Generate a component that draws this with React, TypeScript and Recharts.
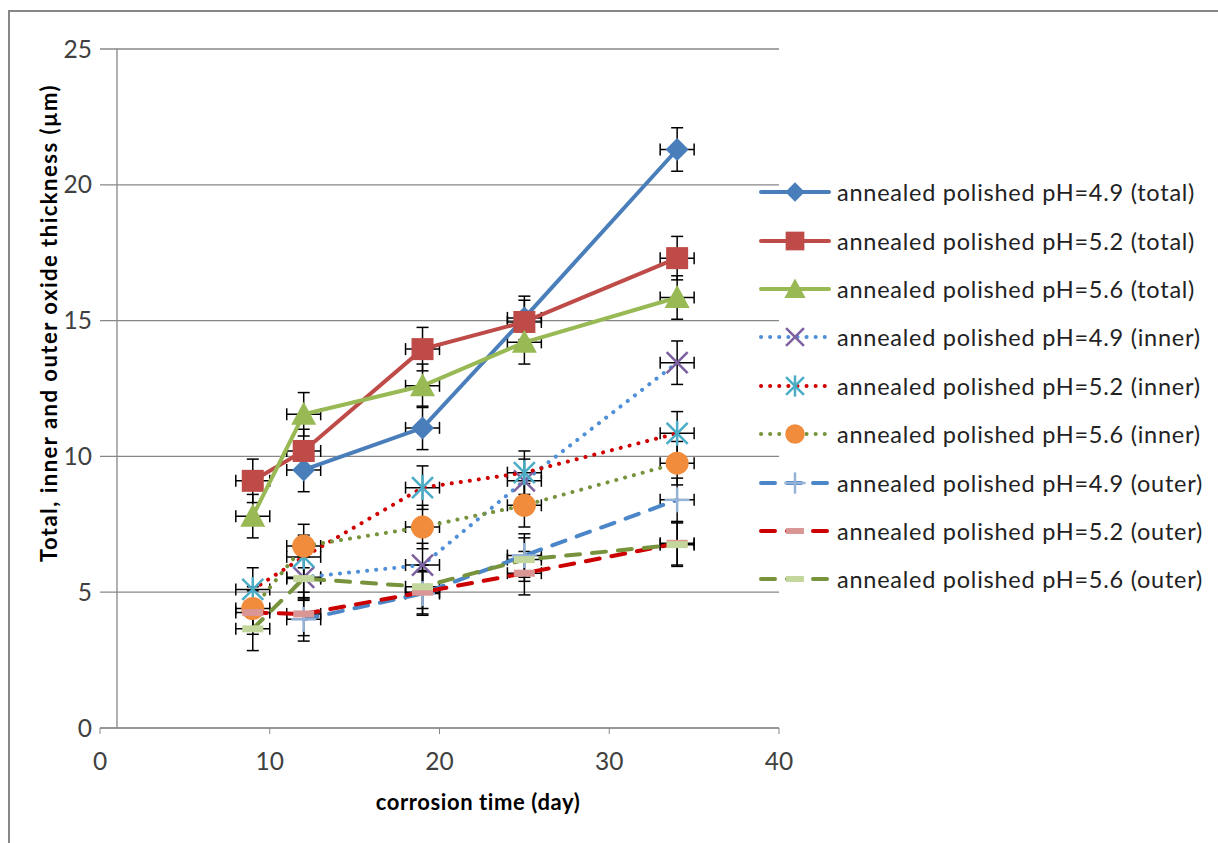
import {
  ScatterChart,
  Scatter,
  XAxis,
  YAxis,
  CartesianGrid,
  ErrorBar,
  ReferenceLine,
  Label
} from 'recharts'

// corrosion time (day) and error estimates
const days = [9, 12, 19, 25, 34]
const dayErr = [1, 1, 1, 1, 1]
const thicknessErr = [0.8, 0.8, 0.8, 0.8, 0.8]

// oxide thickness (µm), null = not measured
const total49 = [null, 9.5, 11.05, 15.1, 21.3]
const total52 = [9.1, 10.2, 13.95, 14.95, 17.3]
const total56 = [7.8, 11.55, 12.6, 14.2, 15.85]
const inner49 = [null, 5.55, 6.0, 9.1, 13.45]
const inner52 = [5.1, 6.3, 8.85, 9.4, 10.85]
const inner56 = [4.4, 6.7, 7.4, 8.2, 9.75]
const outer49 = [null, 4.0, 4.95, 6.35, 8.4]
const outer52 = [4.25, 4.2, 5.0, 5.7, 6.8]
const outer56 = [3.65, 5.5, 5.2, 6.2, 6.75]

const xTicks = [0, 10, 20, 30, 40]
const yTicks = [0, 5, 10, 15, 20, 25]

const FONT = 'Lato, "Open Sans", sans-serif'
const GRID = '#878787'

type Marker = 'diamond' | 'square' | 'triangle' | 'x' | 'star' | 'circle' | 'plus' | 'dash'

interface SeriesDef {
  name: string
  values: (number | null)[]
  stroke: string
  dash?: string
  marker: Marker
  markerColor: string
}

const DOT = '0.1 9'
const DASH = '14 12'

const series: SeriesDef[] = [
  { name: 'annealed polished pH=4.9 (total)', values: total49, stroke: '#4A7EBB', marker: 'diamond', markerColor: '#4A7EBB' },
  { name: 'annealed polished pH=5.2 (total)', values: total52, stroke: '#BE4B48', marker: 'square', markerColor: '#BE4B48' },
  { name: 'annealed polished pH=5.6 (total)', values: total56, stroke: '#98B954', marker: 'triangle', markerColor: '#98B954' },
  { name: 'annealed polished pH=4.9 (inner)', values: inner49, stroke: '#4F8FD8', dash: DOT, marker: 'x', markerColor: '#7D60A0' },
  { name: 'annealed polished pH=5.2 (inner)', values: inner52, stroke: '#D00000', dash: DOT, marker: 'star', markerColor: '#4BACC6' },
  { name: 'annealed polished pH=5.6 (inner)', values: inner56, stroke: '#77933C', dash: DOT, marker: 'circle', markerColor: '#F08C3C' },
  { name: 'annealed polished pH=4.9 (outer)', values: outer49, stroke: '#4A86C8', dash: DASH, marker: 'plus', markerColor: '#95B3D7' },
  { name: 'annealed polished pH=5.2 (outer)', values: outer52, stroke: '#CC0000', dash: DASH, marker: 'dash', markerColor: '#D99694' },
  { name: 'annealed polished pH=5.6 (outer)', values: outer56, stroke: '#77933C', dash: DASH, marker: 'dash', markerColor: '#C3D69B' }
]

function drawMarker(kind: Marker, cx: number, cy: number, color: string, s = 1) {
  switch (kind) {
    case 'diamond':
      return <path d={`M${cx},${cy - 11.5 * s}L${cx + 11.5 * s},${cy}L${cx},${cy + 11.5 * s}L${cx - 11.5 * s},${cy}Z`} fill={color} />
    case 'square':
      return <rect x={cx - 11 * s} y={cy - 11 * s} width={22 * s} height={22 * s} fill={color} />
    case 'triangle':
      return <path d={`M${cx},${cy - 12.5 * s}L${cx + 12.5 * s},${cy + 10.5 * s}L${cx - 12.5 * s},${cy + 10.5 * s}Z`} fill={color} />
    case 'x':
      return (
        <g stroke={color} strokeWidth={2.5}>
          <line x1={cx - 10.5 * s} y1={cy - 10.5 * s} x2={cx + 10.5 * s} y2={cy + 10.5 * s} />
          <line x1={cx - 10.5 * s} y1={cy + 10.5 * s} x2={cx + 10.5 * s} y2={cy - 10.5 * s} />
        </g>
      )
    case 'star':
      return (
        <g stroke={color} strokeWidth={2.5}>
          <line x1={cx - 10.5 * s} y1={cy - 10.5 * s} x2={cx + 10.5 * s} y2={cy + 10.5 * s} />
          <line x1={cx - 10.5 * s} y1={cy + 10.5 * s} x2={cx + 10.5 * s} y2={cy - 10.5 * s} />
          <line x1={cx} y1={cy - 12.5 * s} x2={cx} y2={cy + 12.5 * s} />
        </g>
      )
    case 'circle':
      return <circle cx={cx} cy={cy} r={11.5 * s} fill={color} />
    case 'plus':
      return (
        <g stroke={color} strokeWidth={2.5}>
          <line x1={cx - 12.5 * s} y1={cy} x2={cx + 12.5 * s} y2={cy} />
          <line x1={cx} y1={cy - 12.5 * s} x2={cx} y2={cy + 12.5 * s} />
        </g>
      )
    case 'dash':
      return <rect x={cx - 10.5 * s} y={cy - 3.5 * s} width={21 * s} height={7 * s} fill={color} />
  }
}

function rows(values: (number | null)[]) {
  return days
    .map((d, i) => ({ day: d, value: values[i], xErr: dayErr[i], yErr: thicknessErr[i] }))
    .filter((r) => r.value !== null)
}

function LegendBox() {
  return (
    <div
      style={{
        position: 'absolute',
        left: 756,
        top: 168,
        fontFamily: FONT,
        fontSize: 23.5,
        letterSpacing: 0.75,
        color: '#222'
      }}
    >
      {series.map((s) => (
        <div key={s.name} style={{ height: 48.4, display: 'flex', alignItems: 'center' }}>
          <svg width={78} height={30} style={{ flex: 'none' }}>
            <line
              x1={5}
              y1={15}
              x2={73}
              y2={15}
              stroke={s.stroke}
              strokeWidth={4}
              strokeDasharray={s.dash}
              strokeLinecap="round"
            />
            {drawMarker(s.marker, 39, 15, s.markerColor, 0.85)}
          </svg>
          <span style={{ marginLeft: 3, whiteSpace: 'nowrap' }}>{s.name}</span>
        </div>
      ))}
    </div>
  )
}

const titleStyle = { fontFamily: FONT, fontWeight: 700, fill: '#000' }

export default function App() {
  return (
    <div style={{ position: 'fixed', left: 0, top: 0, width: 1218, height: 843, overflow: 'hidden', background: '#fff' }}>
      <div
        style={{
          position: 'absolute',
          left: 8,
          top: 10,
          width: 1300,
          height: 900,
          borderLeft: `2px solid ${GRID}`,
          borderTop: `2px solid ${GRID}`
        }}
      />
      <div style={{ position: 'absolute', left: 0, top: 0 }}>
        <ScatterChart width={1218} height={843} margin={{ top: 49, right: 439, bottom: 55, left: 0 }}>
          <CartesianGrid vertical={false} stroke={GRID} strokeWidth={1.3} />
          <XAxis
            type="number"
            dataKey="day"
            domain={[0, 40]}
            ticks={xTicks}
            height={60}
            stroke={GRID}
            tickSize={6}
            tickMargin={19}
            tick={{ fill: '#404040', fontSize: 24.5, fontFamily: FONT }}
          >
            <Label
              content={() => (
                <text
                  x={478}
                  y={801}
                  textAnchor="middle"
                  dominantBaseline="central"
                  style={{ ...titleStyle, fontSize: 22, letterSpacing: 0.6 }}
                >
                  corrosion time (day)
                </text>
              )}
            />
          </XAxis>
          <YAxis
            type="number"
            dataKey="value"
            domain={[0, 25]}
            ticks={yTicks}
            width={100}
            axisLine={false}
            tickLine={false}
            tickSize={0}
            tickMargin={8}
            tick={{ fill: '#404040', fontSize: 24.5, fontFamily: FONT }}
          >
            <Label
              content={() => (
                <text
                  x={48}
                  y={323}
                  transform="rotate(-90, 48, 323)"
                  textAnchor="middle"
                  dominantBaseline="central"
                  style={{ ...titleStyle, fontSize: 22, letterSpacing: 1.5 }}
                >
                  Total, inner and outer oxide thickness (µm)
                </text>
              )}
            />
          </YAxis>
          <ReferenceLine x={1} stroke={GRID} strokeWidth={1.3} />
          {series.map((s) => (
            <Scatter
              key={s.name}
              name={s.name}
              data={rows(s.values)}
              isAnimationActive={false}
              fill={s.markerColor}
              line={{ stroke: s.stroke, strokeWidth: 4, strokeDasharray: s.dash, strokeLinecap: 'round' }}
              shape={(p: any) => drawMarker(s.marker, p.cx, p.cy, s.markerColor)}
            >
              <ErrorBar dataKey="xErr" direction="x" width={6} stroke="#000" strokeWidth={1.5} />
              <ErrorBar dataKey="yErr" direction="y" width={6} stroke="#000" strokeWidth={1.5} />
            </Scatter>
          ))}
        </ScatterChart>
      </div>
      <LegendBox />
    </div>
  )
}
